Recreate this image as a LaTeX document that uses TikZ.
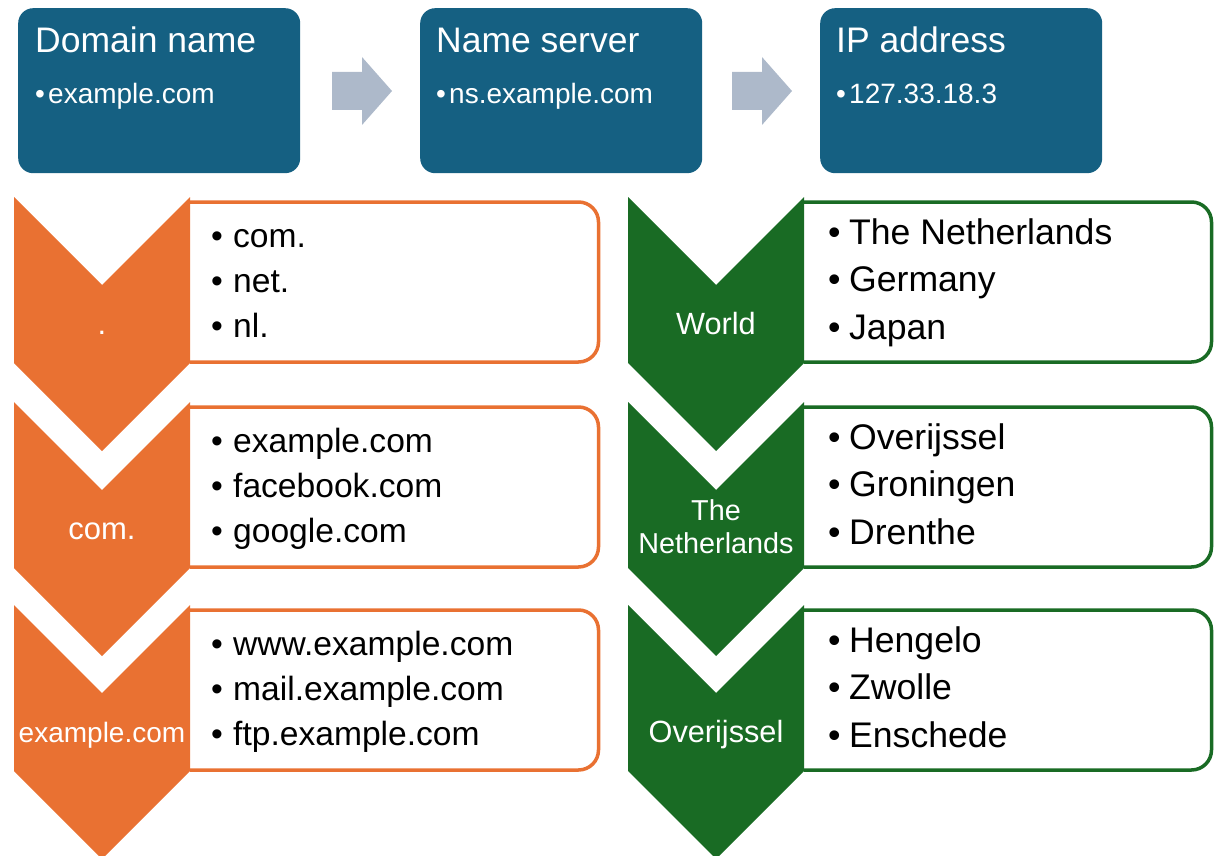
\documentclass[tikz,border=0pt]{standalone}
\usepackage{fontspec}
\setmainfont{Liberation Sans}
\definecolor{topblue}{HTML}{156082}
\definecolor{arrowgray}{HTML}{ADB9CA}
\definecolor{dnsorange}{HTML}{E97132}
\definecolor{dnsgreen}{HTML}{196B24}
\newcommand\lbul[1]{\makebox[#1][l]{•}}
\begin{document}
\begin{tikzpicture}[x=1pt,y=-1pt,
  topbox/.style={fill=topblue, rounded corners=15pt, minimum width=282pt, minimum height=165pt, inner sep=0pt, anchor=north west},
  toptitle/.style={text=white, inner sep=0pt, anchor=base west, font=\fontsize{35.5}{40}\selectfont},
  topsub/.style={text=white, inner sep=0pt, anchor=base west, font=\fontsize{28}{32}\selectfont},
  blockarrow/.style={fill=arrowgray},
  obox/.style={draw=dnsorange, line width=3.5pt},
  gbox/.style={draw=dnsgreen, line width=3.5pt},
  olist/.style={inner sep=0pt, anchor=base west, align=left, font=\fontsize{33.6}{45.3}\selectfont},
  glist/.style={inner sep=0pt, anchor=base west, align=left, font=\fontsize{35.6}{47.8}\selectfont},
  clab/.style={text=white, inner sep=0pt, anchor=base, align=center}
]
\useasboundingbox (0,0) rectangle (1216,856);

% top row
\node[topbox] (dom) at (18,8) {};
\node[topbox] (ns) at (420,8) {};
\node[topbox] (ip) at (820,8) {};
\node[toptitle] (domt) at (35,53) {Domain name};
\node[topsub] (doms) at (35,104) {\lbul{13pt}example.com};
\node[toptitle] (nst) at (436,53) {Name server};
\node[topsub] (nss) at (436,104) {\lbul{13pt}ns.example.com};
\node[toptitle] (ipt) at (836,53) {IP address};
\node[topsub] (ips) at (836,104) {\lbul{13pt}127.33.18.3};

\fill[blockarrow] (332,72) -- (362,72) -- (362,57) -- (392,91) -- (362,125) -- (362,110) -- (332,110) -- cycle;
\fill[blockarrow] (732,72) -- (762,72) -- (762,57) -- (792,91) -- (762,125) -- (762,110) -- (732,110) -- cycle;

% chevron lists
\foreach \y in {197,402,605}{
  \draw[obox] (190,{\y+5}) [rounded corners=20pt] -- (598.5,{\y+5}) -- (598.5,{\y+165}) -- (190,{\y+165});
  \fill[dnsorange] (14,\y) -- (102,{\y+88}) -- (190,\y) -- (190,{\y+166}) -- (102,{\y+254}) -- (14,{\y+166}) -- cycle;
  \draw[gbox] (804,{\y+5}) [rounded corners=20pt] -- (1211.5,{\y+5}) -- (1211.5,{\y+165}) -- (804,{\y+165});
  \fill[dnsgreen] (628,\y) -- (716,{\y+88}) -- (804,\y) -- (804,{\y+166}) -- (716,{\y+254}) -- (628,{\y+166}) -- cycle;
}

\node[clab, font=\fontsize{31}{34}\selectfont] (oc1) at (102,334) {.};
\node[clab, font=\fontsize{31}{34}\selectfont] (oc2) at (102,539) {com.};
\node[clab, font=\fontsize{28}{32}\selectfont] (oc3) at (102,742) {example.com};

% multi-line nodes: base anchor is the baseline of the last line
\node[olist] (ol1) at (211,337.6) {\lbul{22pt}com.\\ \lbul{22pt}net.\\ \lbul{22pt}nl.};
\node[olist] (ol2) at (211,542.6) {\lbul{22pt}example.com\\ \lbul{22pt}facebook.com\\ \lbul{22pt}google.com};
\node[olist] (ol3) at (211,745.6) {\lbul{22pt}www.example.com\\ \lbul{22pt}mail.example.com\\ \lbul{22pt}ftp.example.com};

\node[clab, font=\fontsize{30.7}{34}\selectfont] (gc1) at (716,334) {World};
\node[clab, font=\fontsize{28.8}{32.6}\selectfont] (gc2) at (716,553) {The\\Netherlands};
\node[clab, font=\fontsize{30.7}{34}\selectfont] (gc3) at (716,742) {Overijssel};

\node[glist] (gl1) at (828,339.6) {\lbul{21pt}The Netherlands\\ \lbul{21pt}Germany\\ \lbul{21pt}Japan};
\node[glist] (gl2) at (828,544.6) {\lbul{21pt}Overijssel\\ \lbul{21pt}Groningen\\ \lbul{21pt}Drenthe};
\node[glist] (gl3) at (828,747.6) {\lbul{21pt}Hengelo\\ \lbul{21pt}Zwolle\\ \lbul{21pt}Enschede};
\end{tikzpicture}
\end{document}
